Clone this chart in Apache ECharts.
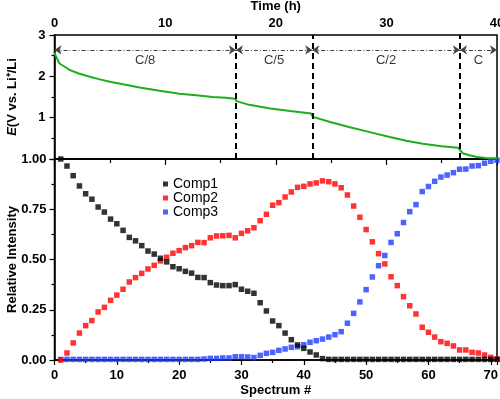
<!DOCTYPE html>
<html>
<head>
<meta charset="utf-8">
<script src="https://cdn.jsdelivr.net/npm/echarts@6/dist/echarts.min.js"></script>
<style>
  html, body { margin: 0; padding: 0; background: #fff; }
  #chart { width: 500px; height: 399px; }
</style>
</head>
<body>
<div id="chart"></div>
<script>
// upper panel: cell potential vs time
var timeH = [0, 0.1, 0.45, 1.0, 1.4, 2.2, 3.2, 4.2, 5.0, 6.3, 7.7, 9.5, 11.3, 12.8, 14.3, 15.5, 16.3,
  16.45, 16.6, 17.6, 19.5, 21.3, 23.2, 23.35, 23.5, 25, 26.7, 28.5, 30.3, 31.8, 33.3, 35, 36.5,
  36.7, 36.9, 37.5, 38.2, 39, 40]
var potential = [2.58, 2.5, 2.31, 2.22, 2.15, 2.07, 1.99, 1.92, 1.87, 1.8, 1.73, 1.65, 1.58, 1.54, 1.5, 1.48, 1.46,
  1.4, 1.37, 1.31, 1.22, 1.16, 1.1, 1.02, 1.0, 0.89, 0.77, 0.65, 0.53, 0.44, 0.37, 0.31, 0.27,
  0.2, 0.14, 0.09, 0.05, 0.025, 0.01]

// C-rate segments (h)
var rateBounds = [0, 16.4, 23.3, 36.65, 40]
var rateNames = ['C/8', 'C/5', 'C/2', 'C']

// lower panel: relative intensity of components per spectrum
var spectrum = Array.from({length: 71}, function (_, i) { return i + 1 })
var comp1 = [1.0, 0.965, 0.917, 0.866, 0.827, 0.8, 0.761, 0.736, 0.701, 0.678,
  0.645, 0.61, 0.593, 0.569, 0.542, 0.527, 0.506, 0.488, 0.464, 0.454,
  0.441, 0.432, 0.411, 0.41, 0.385, 0.373, 0.37, 0.37, 0.375, 0.352,
  0.342, 0.332, 0.285, 0.244, 0.194, 0.171, 0.134, 0.101, 0.075, 0.058,
  0.04, 0.025, 0.007, 0.003, 0.003, 0.003, 0.003, 0.003, 0.003, 0.003,
  0.003, 0.003, 0.003, 0.003, 0.003, 0.003, 0.003, 0.003, 0.003, 0.003,
  0.003, 0.003, 0.003, 0.003, 0.003, 0.003, 0.003, 0.003, 0.003, 0.003, 0.003]
var comp2 = [0.0, 0.035, 0.085, 0.134, 0.171, 0.196, 0.239, 0.262, 0.297, 0.323,
  0.352, 0.388, 0.41, 0.431, 0.453, 0.471, 0.493, 0.511, 0.531, 0.544,
  0.559, 0.569, 0.585, 0.584, 0.608, 0.617, 0.618, 0.62, 0.608, 0.63,
  0.643, 0.658, 0.693, 0.725, 0.77, 0.783, 0.811, 0.836, 0.859, 0.864,
  0.876, 0.881, 0.891, 0.887, 0.876, 0.857, 0.821, 0.766, 0.71, 0.649,
  0.588, 0.529, 0.478, 0.414, 0.37, 0.315, 0.27, 0.229, 0.163, 0.138,
  0.114, 0.091, 0.083, 0.07, 0.05, 0.05, 0.038, 0.035, 0.025, 0.013, 0.005]
var comp3 = [0.003, 0.003, 0.003, 0.003, 0.003, 0.003, 0.003, 0.003, 0.003, 0.003,
  0.003, 0.003, 0.003, 0.003, 0.003, 0.003, 0.003, 0.003, 0.003, 0.003,
  0.003, 0.003, 0.003, 0.005, 0.008, 0.008, 0.01, 0.01, 0.016, 0.016,
  0.015, 0.012, 0.023, 0.033, 0.038, 0.048, 0.055, 0.063, 0.066, 0.076,
  0.088, 0.096, 0.104, 0.114, 0.126, 0.141, 0.183, 0.232, 0.289, 0.35,
  0.413, 0.469, 0.52, 0.585, 0.628, 0.684, 0.738, 0.773, 0.838, 0.863,
  0.889, 0.91, 0.92, 0.932, 0.949, 0.95, 0.965, 0.967, 0.979, 0.989, 0.994]

var FONT = '"Liberation Sans", Arial, sans-serif'
var axisLine = {lineStyle: {color: '#000', width: 1.5}}
var tickStyle = {color: '#000', width: 1.2}
var boldLabel = {color: '#000', fontWeight: 'bold', fontSize: 13, fontFamily: FONT}

function zip(xs, ys) {
  return xs.map(function (x, i) { return [x, ys[i]] })
}

var arrowY = 2.64
var labelY = 2.39
var arrows = []
var rateLabels = []
for (var i = 0; i < rateNames.length; i++) {
  arrows.push([
    {coord: [rateBounds[i], arrowY]},
    {coord: [rateBounds[i + 1], arrowY]}
  ])
  rateLabels.push({value: [(rateBounds[i] + rateBounds[i + 1]) / 2, labelY], name: rateNames[i]})
}

var chart = echarts.init(document.getElementById('chart'))

chart.setOption({
  animation: false,
  textStyle: {fontFamily: FONT},
  grid: [
    {left: 54.5, right: 3, top: 35, height: 124, show: true, borderColor: '#000', borderWidth: 1.5,
      containLabel: false, outerBoundsMode: 'none'},
    {left: 54.5, right: 3, top: 159, height: 201, show: true, borderColor: '#000', borderWidth: 1.5,
      containLabel: false, outerBoundsMode: 'none'}
  ],
  legend: {
    data: ['Comp1', 'Comp2', 'Comp3'],
    orient: 'vertical',
    left: 158,
    top: 172,
    itemWidth: 5,
    itemHeight: 5,
    itemGap: 0,
    icon: 'rect',
    textStyle: {color: '#000', fontSize: 14, lineHeight: 13, fontFamily: FONT}
  },
  xAxis: [
    {
      gridIndex: 0, type: 'value', position: 'top', min: 0, max: 40, interval: 10,
      name: 'Time (h)', nameLocation: 'middle', nameGap: 22, nameMoveOverlap: false, nameTextStyle: boldLabel,
      axisLine: axisLine,
      axisTick: {inside: true, length: 6, lineStyle: tickStyle},
      minorTick: {show: true, splitNumber: 2, length: 4, lineStyle: tickStyle},
      axisLabel: Object.assign({margin: 5}, boldLabel),
      splitLine: {show: false}
    },
    {
      gridIndex: 1, type: 'value', min: 0, max: 71, interval: 10,
      name: 'Spectrum #', nameLocation: 'middle', nameGap: 24, nameMoveOverlap: false, nameTextStyle: boldLabel,
      axisLine: axisLine,
      axisTick: {length: 5, lineStyle: tickStyle},
      minorTick: {show: true, splitNumber: 2, length: 3, lineStyle: tickStyle},
      axisLabel: Object.assign({margin: 9, formatter: function (v) { return v % 10 === 0 ? v : '' }}, boldLabel),
      splitLine: {show: false}
    }
  ],
  yAxis: [
    {
      gridIndex: 0, type: 'value', min: 0, max: 3, interval: 1,
      name: '{i|E}(V vs. Li⁺/Li', nameLocation: 'middle', nameGap: 36, nameMoveOverlap: false,
      nameTextStyle: Object.assign({rich: {i: {fontStyle: 'italic', fontWeight: 'bold', fontSize: 13, fontFamily: FONT}}}, boldLabel),
      axisLine: axisLine,
      axisTick: {length: 5, lineStyle: tickStyle},
      minorTick: {show: true, splitNumber: 2, length: 3, lineStyle: tickStyle},
      axisLabel: Object.assign({margin: 9, formatter: function (v) { return v === 0 ? '' : v }}, boldLabel),
      splitLine: {show: false}
    },
    {
      gridIndex: 1, type: 'value', min: 0, max: 1, interval: 0.25,
      name: 'Relative Intensity', nameLocation: 'middle', nameGap: 36, nameMoveOverlap: false, nameTextStyle: boldLabel,
      axisLine: axisLine,
      axisTick: {length: 5, lineStyle: tickStyle},
      minorTick: {show: true, splitNumber: 2, length: 3, lineStyle: tickStyle},
      axisLabel: Object.assign({margin: 8, formatter: function (v) { return v.toFixed(2) }}, boldLabel),
      splitLine: {show: false}
    }
  ],
  series: [
    {
      name: 'E', type: 'line', xAxisIndex: 0, yAxisIndex: 0,
      data: zip(timeH, potential),
      showSymbol: false,
      color: '#1cae1c',
      lineStyle: {width: 2},
      markLine: {
        silent: true,
        symbol: ['none', 'none'],
        label: {show: false},
        lineStyle: {color: '#000', width: 2, type: [6, 4]},
        data: rateBounds.slice(1, -1).map(function (t) { return {xAxis: t} })
      }
    },
    {
      name: 'rates', type: 'scatter', xAxisIndex: 0, yAxisIndex: 0,
      data: rateLabels,
      symbolSize: 0,
      label: {show: true, position: 'inside', formatter: '{b}', color: '#000', fontSize: 13, fontFamily: FONT},
      markLine: {
        silent: true,
        symbol: ['arrow', 'arrow'],
        symbolSize: [7, 7],
        label: {show: false},
        lineStyle: {color: '#444', width: 1, type: [4, 2, 1, 2]},
        data: arrows
      }
    },
    {
      name: 'Comp3', type: 'scatter', xAxisIndex: 1, yAxisIndex: 1,
      data: zip(spectrum, comp3), symbol: 'rect', symbolSize: 5.5, color: '#1f3dff'
    },
    {
      name: 'Comp2', type: 'scatter', xAxisIndex: 1, yAxisIndex: 1,
      data: zip(spectrum, comp2), symbol: 'rect', symbolSize: 5.5, color: '#ff0000'
    },
    {
      name: 'Comp1', type: 'scatter', xAxisIndex: 1, yAxisIndex: 1,
      data: zip(spectrum, comp1), symbol: 'rect', symbolSize: 5.5, color: '#000'
    }
  ]
})
</script>
</body>
</html>
